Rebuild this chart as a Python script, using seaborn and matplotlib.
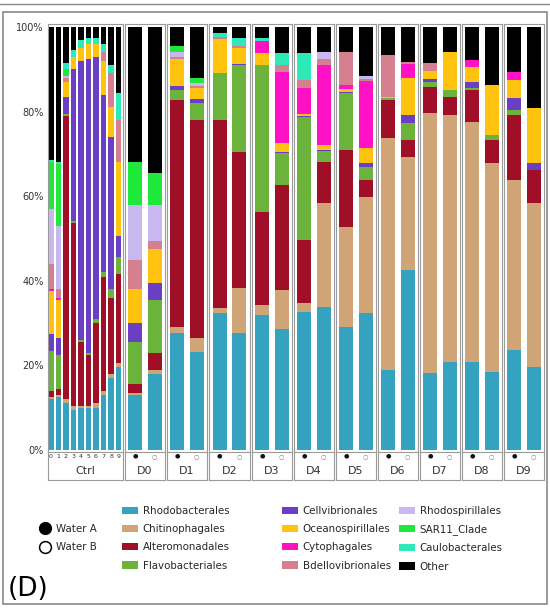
import numpy as np
import pandas as pd
import matplotlib
matplotlib.use("Agg")
import matplotlib.pyplot as plt
from matplotlib.patches import Patch, Rectangle
from matplotlib.lines import Line2D
import seaborn as sns

W, H = 550, 608

# ---------------------------------------------------------------------------
# Data (relative abundance, %), order: Ctrl 0-9, then D0 A/B ... D9 A/B
# ---------------------------------------------------------------------------
taxa = ["Rhodobacterales", "Chitinophagales", "Alteromonadales", "Flavobacteriales",
        "Cellvibrionales", "Oceanospirillales", "Cytophagales", "Bdellovibrionales",
        "Rhodospirillales", "SAR11_Clade", "Caulobacterales", "Other"]
taxa_colors = ["#35A3C0", "#CFA577", "#A00F28", "#6BB33A",
               "#6A3FC3", "#FFC20E", "#FF11C5", "#D4808F",
               "#C9B8F0", "#1EE83A", "#2EE8B8", "#000000"]

facets = ["Ctrl", "D0", "D1", "D2", "D3", "D4", "D5", "D6", "D7", "D8", "D9"]
ctrl_ticks = ["0", "1", "2", "3", "4", "5", "6", "7", "8", "9"]
water_ticks = ["\u25CF", "\u25CB"]
water_labels = ["Water A", "Water B"]

rhodobacterales = [12, 12.5, 11, 9.5, 10, 10, 10, 13, 17, 19.6,
                   13, 18, 27.7, 23.2, 32.4, 27.7, 32, 28.6, 32.6, 33.8,
                   29, 32.4, 18.9, 42.6, 18.2, 20.8, 20.8, 18.4, 23.6, 19.6]
chitinophagales = [0.5, 0.5, 1, 1, 0.5, 0.5, 1, 1, 1, 1,
                   0.5, 1, 1.3, 3.3, 1.1, 10.6, 2.3, 9.2, 2.2, 24.6,
                   23.7, 27.4, 54.9, 26.7, 61.5, 58.4, 56.7, 49.4, 40.2, 38.8]
alteromonadales = [1.5, 1.5, 67, 43.2, 15, 12, 19, 27, 18, 21,
                   2, 4, 53.7, 51.5, 44.6, 32.2, 22, 24.8, 14.8, 9.6,
                   18.3, 4, 8.9, 4, 6.1, 4.3, 7.7, 5.5, 15.4, 7.8]
flavobacteriales = [9.5, 8, 0.5, 0.5, 0.5, 0.5, 1, 1, 2, 4,
                    10, 12.5, 2.3, 4, 11, 20.5, 34.7, 7.6, 29, 2.6,
                    13.3, 3.2, 0.5, 4, 1.2, 1.6, 0.3, 1.2, 1.2, 0]
cellvibrionales = [4, 4, 4, 35.8, 66, 69.5, 62, 42, 36, 5,
                   4.5, 4, 1, 1, 0, 0.3, 0, 0.3, 0.3, 0.3,
                   0.3, 0.8, 0, 1.9, 0.8, 0, 1.5, 0, 2.8, 1.6]
oceanospirillales = [10, 9, 3.5, 3, 3, 3.5, 3, 8, 7, 17.4,
                     8, 8, 6.5, 2.5, 8, 3.7, 2.8, 2.1, 0.5, 1.3,
                     0.7, 3.6, 0.3, 8.8, 1.7, 8.9, 3.5, 11.8, 4.3, 13]
cytophagales = [0.5, 0.5, 0, 0, 0, 0, 0, 0, 0, 0,
                0, 0, 0, 0, 0, 0, 2.8, 16.8, 6.2, 18.8,
                1, 15.8, 0, 3.2, 0, 0, 1.7, 0, 1.9, 0]
bdellovibrionales = [6, 2, 1, 0, 0, 0, 0, 2, 8, 10,
                     7, 2, 0.5, 0.5, 0.5, 0.5, 0, 1.6, 1.9, 1.5,
                     7.7, 0.6, 9.9, 0.5, 1.9, 0, 0, 0, 0, 0]
rhodospirillales = [13, 15, 0.5, 0, 0, 0, 0, 0, 0, 0,
                    13, 8.5, 1, 0.8, 0, 0, 0, 0, 0, 1.5,
                    0, 0.5, 0, 0, 0, 0, 0, 0, 0, 0]
sar11_clade = [11, 14.5, 1.5, 0, 0, 0, 0, 0, 0, 0,
               10, 7.5, 1.5, 1.2, 0, 0, 0, 0, 0, 0,
               0, 0, 0, 0, 0, 0, 0, 0, 0, 0]
caulobacterales = [0.5, 0.5, 1.5, 1.5, 2, 1.5, 1.5, 2, 2, 6.4,
                   0, 0, 0, 0, 1, 1.9, 0.8, 2.8, 6.3, 0,
                   0, 0, 0, 0, 0, 0, 0, 0, 0, 0]
other = [31.5, 32, 8.5, 5.5, 3, 2.5, 2.5, 4, 9, 15.6,
         32, 34.5, 4.5, 12, 1.4, 2.6, 2.6, 6.2, 6.2, 6,
         6, 11.7, 6.6, 8.3, 8.6, 6, 7.8, 13.7, 10.6, 19.2]

abundance = [rhodobacterales, chitinophagales, alteromonadales, flavobacteriales,
             cellvibrionales, oceanospirillales, cytophagales, bdellovibrionales,
             rhodospirillales, sar11_clade, caulobacterales, other]

# ---------------------------------------------------------------------------
# Long table with cumulative tops for stacking
# ---------------------------------------------------------------------------
sample_facet = ["Ctrl"] * 10 + [f for f in facets[1:] for _ in range(2)]
sample_id = ctrl_ticks + ["A", "B"] * 10

rows = []
cum = np.zeros(len(sample_id))
for taxon, vals in zip(taxa, abundance):
    cum = cum + np.array(vals, dtype=float)
    for i in range(len(sample_id)):
        rows.append({"facet": sample_facet[i], "sample": sample_id[i],
                     "taxon": taxon, "top": cum[i]})
df = pd.DataFrame(rows)

# ---------------------------------------------------------------------------
# Figure
# ---------------------------------------------------------------------------
sns.set_style("white")
plt.rcParams["font.family"] = ["DejaVu Sans"]

fig = plt.figure(figsize=(W / 100, H / 100), dpi=100)


def px_axes(x0, y0, x1, y1):
    return fig.add_axes([x0 / W, 1 - y1 / H, (x1 - x0) / W, (y1 - y0) / H])


edges = [47, 124, 166, 208, 251, 293, 335, 377, 419, 461, 503, 545]
panel_top, panel_bottom, strip_bottom = 24, 452, 480
spine_col = "#9a9a9a"

for k, facet in enumerate(facets):
    x0, x1 = edges[k] + 0.8, edges[k + 1] - 0.8
    ax = px_axes(x0, panel_top, x1, panel_bottom)
    sub = df[df["facet"] == facet]
    order = ctrl_ticks if facet == "Ctrl" else ["A", "B"]
    for taxon, col in zip(taxa[::-1], taxa_colors[::-1]):
        s = sub[sub["taxon"] == taxon]
        sns.barplot(data=s, x="sample", y="top", order=order, color=col,
                    saturation=1, width=0.72, errorbar=None, linewidth=0,
                    edgecolor="none", ax=ax)
    ax.set_ylim(-0.47, 100.7)
    if facet == "Ctrl":
        ax.set_xlim(-0.4, 9.6)
        ax.set_xticks(range(10))
        ax.set_xticklabels(ctrl_ticks, fontsize=4.5, color="#333333")
        ax.set_yticks([0, 20, 40, 60, 80, 100])
        ax.set_yticklabels(["0%", "20%", "40%", "60%", "80%", "100%"],
                           fontsize=7, color="#333333")
        ax.tick_params(axis="y", length=2, width=0.6, color="#555555", pad=1)
    else:
        ax.set_xlim(-0.55, 1.55)
        ax.set_xticks([0, 1])
        ax.set_xticklabels(water_ticks, fontsize=4.5)
        ax.get_xticklabels()[0].set_color("#111111")
        ax.get_xticklabels()[1].set_color("#777777")
        ax.set_yticks([])
    ax.tick_params(axis="x", length=0, pad=1.2)
    ax.set_xlabel("")
    ax.set_ylabel("")
    for sp in ax.spines.values():
        sp.set_color(spine_col)
        sp.set_linewidth(0.8)

    strip = px_axes(x0, panel_bottom, x1, strip_bottom)
    strip.set_xticks([])
    strip.set_yticks([])
    strip.patch.set_alpha(0)
    for sp in strip.spines.values():
        sp.set_color(spine_col)
        sp.set_linewidth(0.8)
    strip.spines["top"].set_visible(False)
    strip.text(0.5, 0.33, facet, ha="center", va="center",
               fontsize=8, color="#333333", transform=strip.transAxes)

# ---------------------------------------------------------------------------
# Legends
# ---------------------------------------------------------------------------
fs = 7.4
for c in range(3):
    handles = [Patch(facecolor=taxa_colors[i], edgecolor="none")
               for i in range(c * 4, c * 4 + 4)]
    labels = taxa[c * 4:c * 4 + 4]
    x_anchor = [122, 282, 399][c]
    fig.legend(handles, labels, loc="upper left",
               bbox_to_anchor=(x_anchor / W, 1 - 506 / H),
               frameon=False, fontsize=fs, handlelength=1.55, handleheight=0.7,
               handletextpad=0.45, labelspacing=0.8, borderpad=0,
               borderaxespad=0)

water_handles = [Line2D([], [], marker="o", linestyle="none", markersize=8.5,
                        markerfacecolor="black", markeredgecolor="black"),
                 Line2D([], [], marker="o", linestyle="none", markersize=8.5,
                        markerfacecolor="white", markeredgecolor="black",
                        markeredgewidth=1.1)]
fig.legend(water_handles, water_labels, loc="upper left",
           bbox_to_anchor=(39 / W, 1 - 524 / H), frameon=False, fontsize=fs,
           handlelength=1.2, handletextpad=0.45, labelspacing=0.8,
           borderpad=0, borderaxespad=0)

fig.text(8 / W, 1 - 589 / H, "(D)", fontsize=19, ha="left", va="center",
         color="black")

# outer panel frame
fig.patches.append(Rectangle((3 / W, 1 - 604 / H), 544 / W, 592 / H,
                             transform=fig.transFigure, fill=False,
                             edgecolor="#8a8a8a", linewidth=1.2))
fig.add_artist(Line2D([0, 1], [1 - 4 / H, 1 - 4 / H], transform=fig.transFigure,
                      color="#8a8a8a", linewidth=1.0))

fig.savefig("out.png", dpi=100)
